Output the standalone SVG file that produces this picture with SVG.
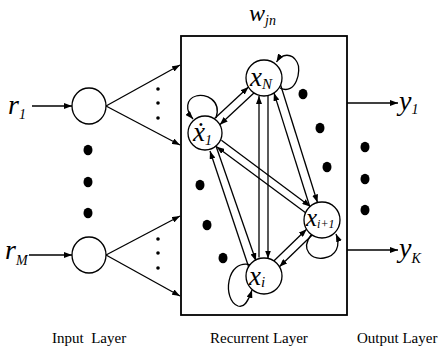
<svg xmlns="http://www.w3.org/2000/svg" width="447" height="351" viewBox="0 0 447 351">
<defs>
<marker id="ah" viewBox="0 0 10 10" refX="10" refY="5" markerWidth="8" markerHeight="6" markerUnits="userSpaceOnUse" orient="auto" preserveAspectRatio="none"><path d="M0,0 L10,5 L0,10 z" fill="#000"/></marker>
</defs>
<style>
.ln{stroke:#000;stroke-width:1.3;fill:none;marker-end:url(#ah)}
.nd{fill:#fff;stroke:#000;stroke-width:1.3}
.dot{fill:#000}
.sdot{fill:#000}
.it{font-family:"Liberation Serif","Times New Roman",serif;font-style:italic;fill:#000}
.cap{font-family:"Liberation Serif","Times New Roman",serif;font-size:15px;fill:#000}
</style>
<rect id="recurrent-box" x="181" y="36" width="166" height="279" fill="none" stroke="#000" stroke-width="1.8"/>
<text class="it" x="249" y="21" font-size="24">w<tspan font-size="14" dy="4">jn</tspan></text>

<g id="connectors">
<line class="ln" x1="32" y1="106" x2="72" y2="106"/>
<line class="ln" x1="29" y1="255" x2="72" y2="255"/>
<line class="ln" x1="106" y1="106" x2="180" y2="65"/>
<line class="ln" x1="106" y1="106" x2="180" y2="145"/>
<line class="ln" x1="106" y1="255" x2="180" y2="216"/>
<line class="ln" x1="106" y1="255" x2="180" y2="296"/>
<line class="ln" x1="347" y1="103" x2="398" y2="103"/>
<line class="ln" x1="347" y1="250" x2="398" y2="250"/>
<line class="ln" x1="214.3" y1="118.8" x2="248.5" y2="87"/>
<line class="ln" x1="253.9" y1="92.9" x2="219.8" y2="124.7"/>
<line class="ln" x1="249" y1="268" x2="210" y2="151"/>
<line class="ln" x1="216" y1="146" x2="256" y2="261"/>
<line class="ln" x1="259" y1="257.5" x2="259" y2="96"/>
<line class="ln" x1="268" y1="96" x2="268" y2="258.5"/>
<line class="ln" x1="309.8" y1="206.7" x2="274" y2="92.9"/>
<line class="ln" x1="280.6" y1="85" x2="317.5" y2="202.5"/>
<line class="ln" x1="221.4" y1="140.2" x2="310.3" y2="206.4"/>
<line class="ln" x1="305.6" y1="212.8" x2="216.6" y2="146.7"/>
<line class="ln" x1="273.8" y1="261" x2="306.6" y2="229.3"/>
<line class="ln" x1="312.2" y1="235" x2="279.4" y2="266.7"/>
<path class="ln" d="M280 88 C296 96 302 70 297 62 C292 53 282 53 276.5 62"/>
<path class="ln" d="M216 118 C222 100 205 93 196 96 C186 99 185 110 193 119"/>
<path class="ln" d="M311 235 C300 250 312 260 324 258 C336 256 341 246 336 234"/>
<path class="ln" d="M251 265 C226 258 222 300 238 306 C244 308 248 302 252 290"/>
</g>

<g id="input-r1">
<ellipse class="nd" cx="89" cy="106" rx="17" ry="18"/>
<text class="it" x="8" y="114" font-size="28">r<tspan font-size="14" dy="5">1</tspan></text>
</g>
<g id="input-rM">
<ellipse class="nd" cx="89" cy="255" rx="17" ry="18"/>
<text class="it" x="5" y="259" font-size="28">r<tspan font-size="14" dy="6">M</tspan></text>
</g>
<g id="node-xN">
<circle class="nd" cx="264" cy="78" r="18"/>
<text class="it" x="250" y="86" font-size="27">x<tspan font-size="15" dy="3">N</tspan></text>
</g>
<g id="node-x1">
<circle class="nd" cx="205" cy="133" r="17"/>
<text class="it" x="193" y="141" font-size="27">ẋ<tspan font-size="14" dy="4">1</tspan></text>
</g>
<g id="node-xi1">
<circle class="nd" cx="322" cy="220" r="18"/>
<text class="it" x="306" y="226" font-size="25">x<tspan font-size="12" dy="2">i+1</tspan></text>
</g>
<g id="node-xi">
<circle class="nd" cx="264" cy="276" r="18"/>
<text class="it" x="249" y="285" font-size="27">x<tspan font-size="15" dy="2">i</tspan></text>
</g>
<g id="output-y1">
<text class="it" x="399" y="110" font-size="28">y<tspan font-size="14" dy="4">1</tspan></text>
</g>
<g id="output-yK">
<text class="it" x="399" y="257" font-size="28">y<tspan font-size="14" dy="6">K</tspan></text>
</g>

<g id="ellipsis-dots">
<circle class="sdot" cx="158" cy="89" r="1.8"/>
<circle class="sdot" cx="158" cy="103" r="1.8"/>
<circle class="sdot" cx="158" cy="118" r="1.8"/>
<circle class="sdot" cx="158" cy="239" r="1.8"/>
<circle class="sdot" cx="158" cy="253" r="1.8"/>
<circle class="sdot" cx="158" cy="268" r="1.8"/>
<ellipse class="dot" cx="88" cy="150" rx="4.5" ry="5.3"/>
<ellipse class="dot" cx="88" cy="182" rx="4.5" ry="5.3"/>
<ellipse class="dot" cx="88" cy="213" rx="4.5" ry="5.3"/>
<ellipse class="dot" cx="303" cy="94" rx="4.5" ry="5.3"/>
<ellipse class="dot" cx="320" cy="128" rx="4.5" ry="5.3"/>
<ellipse class="dot" cx="327" cy="167" rx="4.5" ry="5.3"/>
<ellipse class="dot" cx="200" cy="185" rx="4.5" ry="5.3"/>
<ellipse class="dot" cx="207" cy="225" rx="4.5" ry="5.3"/>
<ellipse class="dot" cx="223" cy="258" rx="4.5" ry="5.3"/>
<ellipse class="dot" cx="365" cy="147" rx="4.5" ry="5.3"/>
<ellipse class="dot" cx="365" cy="179" rx="4.5" ry="5.3"/>
<ellipse class="dot" cx="365" cy="210" rx="4.5" ry="5.3"/>
</g>

<text class="cap" x="52" y="343" xml:space="preserve">Input  Layer</text>
<text class="cap" x="210" y="343">Recurrent Layer</text>
<text class="cap" x="357" y="343">Output Layer</text>
</svg>
